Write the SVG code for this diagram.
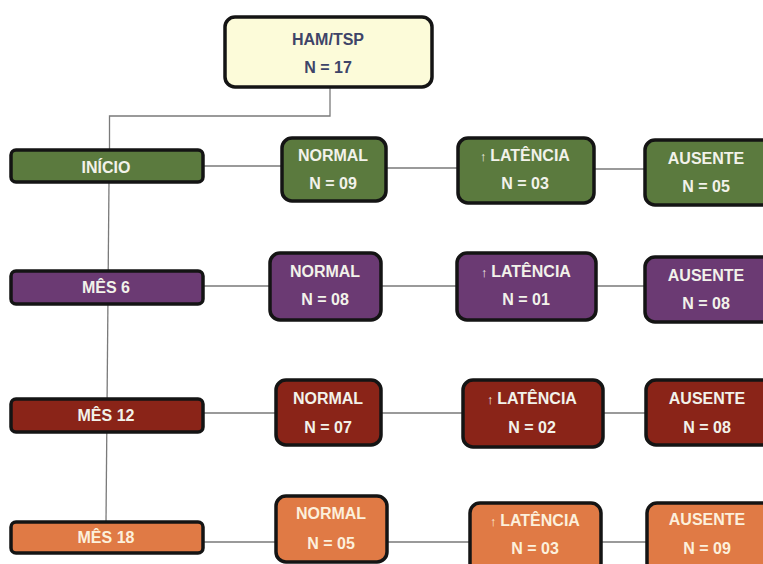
<svg xmlns="http://www.w3.org/2000/svg" width="763" height="564" viewBox="0 0 763 564">
<style>
text{font-family:"Liberation Sans",Arial,sans-serif;font-weight:bold;font-size:16px;text-anchor:middle}
.b{stroke:#141414;stroke-width:3.5}
.g{fill:#5b7a3e}.p{fill:#6b3a73}.r{fill:#8a2418}.o{fill:#e07a45}
.w{fill:#f2f2ea}.wo{fill:#fcf0dc}
.ar{font-weight:normal;font-size:13px}
.c{stroke:#7a7a7a;stroke-width:1.3;fill:none}
</style>
<rect width="763" height="564" fill="#ffffff"/>
<g id="connectors">
<path class="c" d="M330 87V116H109.5V150"/>
<path class="c" d="M109 181L106 522"/>
<path class="c" d="M203 166H282M386 168H458M594 169H645"/>
<path class="c" d="M203 286H270M381 286H457M596 286H645"/>
<path class="c" d="M203 413H276M381 413H463M603 413H646"/>
<path class="c" d="M203 542H276M387 542H470M601 542H647"/>
</g>
<g id="ham"><rect class="b" x="225" y="17" width="207" height="70" rx="10" fill="#fcfbd9"/><text x="328" y="45" fill="#3e4468">HAM/TSP</text><text x="328" y="73" fill="#3e4468">N = 17</text></g>

<g id="inicio"><rect class="b g" x="11" y="150" width="192" height="32" rx="5"/><text class="w" x="106" y="173">INÍCIO</text></g>
<g id="normal1"><rect class="b g" x="282" y="138" width="104" height="63" rx="10"/><text class="w" x="333" y="161">NORMAL</text><text class="w" x="333" y="189">N = 09</text></g>
<g id="latencia1"><rect class="b g" x="458" y="138" width="136" height="65" rx="10"/><text class="w" x="525" y="161"><tspan class="ar">↑ </tspan>LATÊNCIA</text><text class="w" x="525" y="189">N = 03</text></g>
<g id="ausente1"><rect class="b g" x="645" y="140" width="130" height="65" rx="10"/><text class="w" x="706" y="164">AUSENTE</text><text class="w" x="706" y="192">N = 05</text></g>

<g id="mes6"><rect class="b p" x="11" y="271" width="192" height="33" rx="5"/><text class="w" x="106" y="293">MÊS 6</text></g>
<g id="normal2"><rect class="b p" x="270" y="253" width="111" height="67" rx="10"/><text class="w" x="325" y="277">NORMAL</text><text class="w" x="325" y="305">N = 08</text></g>
<g id="latencia2"><rect class="b p" x="457" y="253" width="139" height="67" rx="10"/><text class="w" x="526" y="277"><tspan class="ar">↑ </tspan>LATÊNCIA</text><text class="w" x="526" y="305">N = 01</text></g>
<g id="ausente2"><rect class="b p" x="645" y="257" width="130" height="65" rx="10"/><text class="w" x="706" y="281">AUSENTE</text><text class="w" x="706" y="309">N = 08</text></g>

<g id="mes12"><rect class="b r" x="11" y="399" width="192" height="33" rx="5"/><text class="w" x="106" y="421">MÊS 12</text></g>
<g id="normal3"><rect class="b r" x="276" y="380" width="105" height="65" rx="10"/><text class="w" x="328" y="404">NORMAL</text><text class="w" x="328" y="433">N = 07</text></g>
<g id="latencia3"><rect class="b r" x="463" y="380" width="140" height="67" rx="10"/><text class="w" x="532" y="404"><tspan class="ar">↑ </tspan>LATÊNCIA</text><text class="w" x="532" y="433">N = 02</text></g>
<g id="ausente3"><rect class="b r" x="646" y="380" width="130" height="65" rx="10"/><text class="w" x="707" y="404">AUSENTE</text><text class="w" x="707" y="433">N = 08</text></g>

<g id="mes18"><rect class="b o" x="11" y="522" width="192" height="31" rx="5"/><text class="wo" x="106" y="543">MÊS 18</text></g>
<g id="normal4"><rect class="b o" x="276" y="496" width="111" height="66" rx="10"/><text class="wo" x="331" y="519">NORMAL</text><text class="wo" x="331" y="549">N = 05</text></g>
<g id="latencia4"><rect class="b o" x="470" y="503" width="131" height="70" rx="10"/><text class="wo" x="535" y="526"><tspan class="ar">↑ </tspan>LATÊNCIA</text><text class="wo" x="535" y="554">N = 03</text></g>
<g id="ausente4"><rect class="b o" x="647" y="503" width="130" height="70" rx="10"/><text class="wo" x="707" y="525">AUSENTE</text><text class="wo" x="707" y="554">N = 09</text></g>
</svg>
